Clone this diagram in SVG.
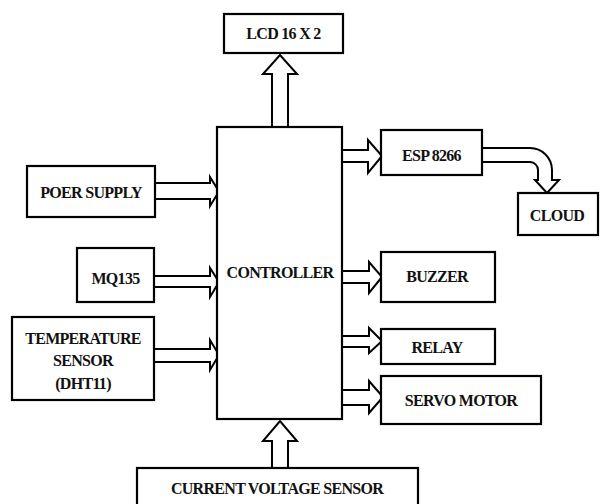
<svg xmlns="http://www.w3.org/2000/svg" width="603" height="504" viewBox="0 0 603 504">
<style>
.box{fill:#fff;stroke:#000;stroke-width:2.2}
.arr{fill:#fff;stroke:#000;stroke-width:2;stroke-linejoin:miter}
text{font-family:"Liberation Serif","DejaVu Serif",serif;font-weight:bold;font-size:16px;fill:#111;text-anchor:middle;dominant-baseline:central;letter-spacing:-0.7px}
</style>
<rect width="603" height="504" fill="#fff"/>
<g id="connectors">
<polygon class="arr" points="272,127 272,74 263,74 280,55 297,74 288,74 288,127"/>
<polygon class="arr" points="155,183 210,183 210,177 219,191.5 210,206 210,199 155,199"/>
<polygon class="arr" points="154,276 210,276 210,268 219,282 210,297 210,287 154,287"/>
<polygon class="arr" points="154,349 210,349 210,340 219,355 210,370 210,362 154,362"/>
<polygon class="arr" points="342,150 368,150 368,140 382,156 368,173 368,162 342,162"/>
<polygon class="arr" points="342,271 369,271 369,262 382,277 369,293 369,283 342,283"/>
<polygon class="arr" points="342,336 369,336 369,328 382,341 369,353 369,347 342,347"/>
<polygon class="arr" points="342,390 369,390 369,381 383,397 369,413 369,405 342,405"/>
<path class="arr" d="M482,148 L530,148 A22,22 0 0 1 552,170 L552,180 L559,180 L547,193 L535,180 L538,180 L538,170 A8,8 0 0 0 530,162 L482,162 Z"/>
<polygon class="arr" points="272,468 272,441 263,441 280,421 297,441 288,441 288,468"/>
</g>
<g id="lcd"><rect class="box" x="224" y="14" width="119" height="39"/><text x="283.5" y="33.5">LCD 16 X 2</text></g>
<g id="controller"><rect class="box" x="217" y="127" width="125" height="292"/><text x="280" y="272">CONTROLLER</text></g>
<g id="power"><rect class="box" x="27" y="166" width="128" height="51"/><text x="91" y="192">POER SUPPLY</text></g>
<g id="mq135"><rect class="box" x="77" y="248" width="77" height="54"/><text x="115.5" y="278">MQ135</text></g>
<g id="temp"><rect class="box" x="12" y="317" width="142" height="83"/><text x="83" y="338">TEMPERATURE</text><text x="83" y="360">SENSOR</text><text x="83" y="383">(DHT11)</text></g>
<g id="esp"><rect class="box" x="381" y="130" width="101" height="45"/><text x="431.5" y="155">ESP 8266</text></g>
<g id="cloud"><rect class="box" x="518" y="193" width="80" height="42"/><text x="557" y="215">CLOUD</text></g>
<g id="buzzer"><rect class="box" x="381" y="252" width="114" height="50"/><text x="437" y="276">BUZZER</text></g>
<g id="relay"><rect class="box" x="381" y="329" width="114" height="35"/><text x="437" y="347">RELAY</text></g>
<g id="servo"><rect class="box" x="381" y="376" width="160" height="48"/><text x="461" y="400">SERVO MOTOR</text></g>
<g id="cvs"><rect class="box" x="137" y="468" width="281" height="40"/><text x="277" y="488">CURRENT VOLTAGE SENSOR</text></g>
</svg>
